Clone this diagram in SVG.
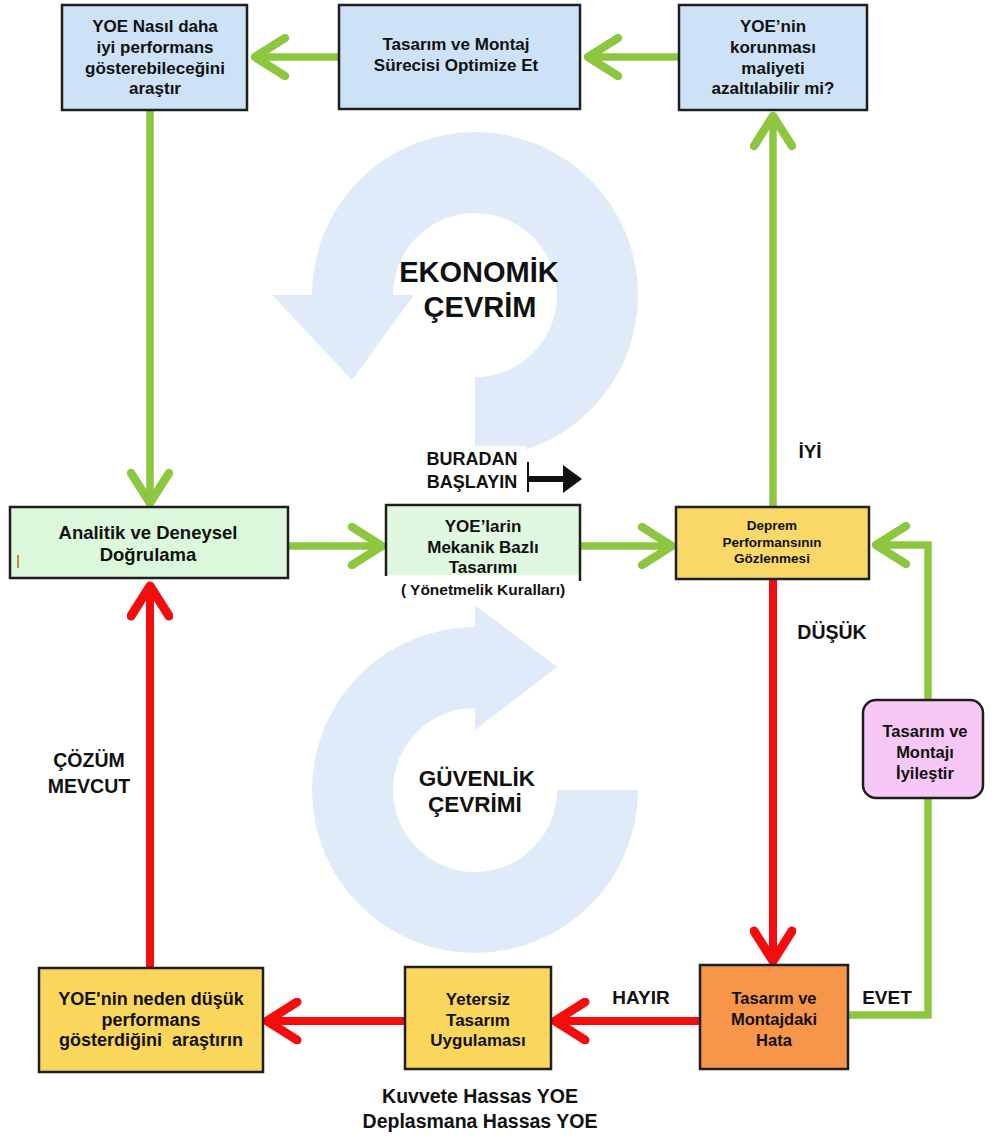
<svg xmlns="http://www.w3.org/2000/svg" width="993" height="1136" viewBox="0 0 993 1136">
  <style>
    .box { stroke: #1e1e1e; stroke-width: 2.5; }
    .blue { fill: #cde2f7; }
    .lgreen { fill: #dcf8dc; }
    .yellow { fill: #fad65c; }
    .orange { fill: #f7954a; }
    .pink { fill: #f7c8f5; }
    .n { font-family: "Liberation Sans Narrow", "Liberation Sans", Arial, sans-serif; font-weight: bold; fill: #111; text-anchor: middle; }
    .s { font-family: "Liberation Sans", Arial, sans-serif; font-weight: bold; fill: #111; text-anchor: middle; }
    .g { fill: none; stroke: #8dc73f; stroke-width: 7.5; stroke-linejoin: miter; }
    .r { fill: none; stroke: #f50d0d; stroke-width: 8; stroke-linejoin: miter; }
    .ring { fill: #dfebf8; }
  </style>
  <defs>
    <marker id="ag" markerUnits="userSpaceOnUse" viewBox="0 0 44 46" markerWidth="44" markerHeight="46" refX="36" refY="23" orient="auto">
      <path d="M6,4 L36,23 L6,42" fill="none" stroke="#8dc73f" stroke-width="8.5" stroke-linecap="round" stroke-linejoin="round"/>
    </marker>
    <marker id="ar" markerUnits="userSpaceOnUse" viewBox="0 0 44 46" markerWidth="44" markerHeight="46" refX="36" refY="23" orient="auto">
      <path d="M6,4 L36,23 L6,42" fill="none" stroke="#f50d0d" stroke-width="9" stroke-linecap="round" stroke-linejoin="round"/>
    </marker>
  </defs>

  <rect width="993" height="1136" fill="#ffffff"/>

  <!-- background cycle arrows -->
  <g id="cycles">
    <path class="ring" d="M475 458 A163 163 0 1 0 312 295 L272 295 L352 380 L414 295 L393 295 A82 82 0 1 1 475 377 Z"/>
    <path class="ring" d="M638 790 A163 163 0 1 1 475 627 L475 605 L557 667 L475 730 L475 708 A82 82 0 1 0 557 790 Z"/>
    <text class="s" x="479" y="282" font-size="29">EKONOMİK</text>
    <text class="s" x="480" y="317" font-size="29">ÇEVRİM</text>
    <text class="s" x="477" y="786" font-size="22.5">GÜVENLİK</text>
    <text class="s" x="475" y="812" font-size="22.5">ÇEVRİMİ</text>
  </g>

  <!-- connectors -->
  <g id="connectors">
    <path class="g" d="M339 57 L255 57" marker-end="url(#ag)"/>
    <path class="g" d="M679 57 L588 57" marker-end="url(#ag)"/>
    <path class="g" d="M150 110 L150 503" marker-end="url(#ag)"/>
    <path class="g" d="M288 546 L382 546" marker-end="url(#ag)"/>
    <path class="g" d="M580 546 L672 546" marker-end="url(#ag)"/>
    <path class="g" d="M773 507 L773 116" marker-end="url(#ag)"/>
    <path class="g" d="M848 1015 L928 1015 L928 545 L876 545" marker-end="url(#ag)"/>
    <path class="r" d="M773 579 L773 961" marker-end="url(#ar)"/>
    <path class="r" d="M700 1021 L555 1021" marker-end="url(#ar)"/>
    <path class="r" d="M405 1021 L267 1021" marker-end="url(#ar)"/>
    <path class="r" d="M150 968 L150 586" marker-end="url(#ar)"/>
  </g>

  <!-- start marker -->
  <g id="start">
    <rect x="414" y="446" width="112" height="48" fill="#ffffff"/>
    <text class="s" x="472" y="465" font-size="18">BURADAN</text>
    <text class="s" x="472" y="488" font-size="18">BAŞLAYIN</text>
    <line x1="528" y1="462" x2="528" y2="492" stroke="#111" stroke-width="2"/>
    <line x1="528" y1="479" x2="565" y2="479" stroke="#111" stroke-width="6"/>
    <polygon points="563,465 582,479 563,493" fill="#111"/>
  </g>

  <!-- top row -->
  <g id="node-arastir">
    <rect class="box blue" x="62" y="5" width="185" height="105"/>
    <text class="n" x="155" y="32" font-size="17">YOE Nasıl daha</text>
    <text class="n" x="155" y="53" font-size="17">iyi performans</text>
    <text class="n" x="155" y="74" font-size="17">gösterebileceğini</text>
    <text class="n" x="155" y="94" font-size="17">araştır</text>
  </g>
  <g id="node-optimize">
    <rect class="box blue" x="339" y="5" width="241" height="104"/>
    <text class="n" x="456" y="50" font-size="17">Tasarım ve Montaj</text>
    <text class="n" x="456" y="71" font-size="17">Sürecisi Optimize Et</text>
  </g>
  <g id="node-maliyet">
    <rect class="box blue" x="679" y="5" width="188" height="105"/>
    <text class="n" x="773" y="32" font-size="17">YOE’nin</text>
    <text class="n" x="773" y="53" font-size="17">korunması</text>
    <text class="n" x="773" y="74" font-size="17">maliyeti</text>
    <text class="n" x="773" y="94" font-size="17">azaltılabilir mi?</text>
  </g>

  <!-- middle row -->
  <g id="node-dogrulama">
    <rect class="box lgreen" x="10" y="507" width="278" height="71"/>
    <line x1="18" y1="555" x2="18" y2="568" stroke="#b8651e" stroke-width="1.5"/>
    <text class="n" x="148" y="539" font-size="18.5">Analitik ve Deneysel</text>
    <text class="n" x="148" y="561" font-size="18.5">Doğrulama</text>
  </g>
  <g id="node-tasarim">
    <rect x="386" y="505" width="194" height="70" fill="#e0f8e0"/>
    <path d="M386 576 L386 505 L580 505 L580 581" fill="none" stroke="#1e1e1e" stroke-width="2.5"/>
    <text class="n" x="483" y="532" font-size="17">YOE’larin</text>
    <text class="n" x="483" y="553" font-size="17">Mekanik Bazlı</text>
    <text class="n" x="483" y="573" font-size="17">Tasarımı</text>
    <text class="n" x="483" y="595" font-size="15.5">( Yönetmelik Kuralları)</text>
  </g>
  <g id="node-gozlem">
    <rect class="box" x="676" y="507" width="193" height="72" fill="#f9d868"/>
    <text class="s" x="772" y="530" font-size="13.5">Deprem</text>
    <text class="s" x="772" y="547" font-size="13.5">Performansının</text>
    <text class="s" x="772" y="563" font-size="13.5">Gözlenmesi</text>
  </g>

  <!-- improvement box on the feedback loop -->
  <g id="node-iyilestir">
    <rect class="box pink" x="863" y="700" width="120" height="98" rx="13" ry="13"/>
    <text class="s" x="925" y="737" font-size="16.5">Tasarım ve</text>
    <text class="s" x="925" y="758" font-size="16.5">Montajı</text>
    <text class="s" x="925" y="779" font-size="16.5">İyileştir</text>
  </g>

  <!-- bottom row -->
  <g id="node-neden">
    <rect class="box yellow" x="39" y="968" width="224" height="104"/>
    <text class="n" x="151" y="1005" font-size="18">YOE'nin neden düşük</text>
    <text class="n" x="151" y="1026" font-size="18">performans</text>
    <text class="n" x="151" y="1046" font-size="18" xml:space="preserve">gösterdiğini  araştırın</text>
  </g>
  <g id="node-yetersiz">
    <rect class="box yellow" x="405" y="967" width="146" height="102"/>
    <text class="n" x="478" y="1005" font-size="17">Yetersiz</text>
    <text class="n" x="478" y="1026" font-size="17">Tasarım</text>
    <text class="n" x="478" y="1046" font-size="17">Uygulaması</text>
    <text class="n" x="480" y="1103" font-size="19.5">Kuvvete Hassas YOE</text>
    <text class="n" x="480" y="1128" font-size="19.5">Deplasmana Hassas YOE</text>
  </g>
  <g id="node-hata">
    <rect class="box orange" x="700" y="965" width="148" height="104"/>
    <text class="s" x="774" y="1004" font-size="16.5">Tasarım ve</text>
    <text class="s" x="774" y="1025" font-size="16.5">Montajdaki</text>
    <text class="s" x="774" y="1046" font-size="16.5">Hata</text>
  </g>

  <!-- branch labels -->
  <g id="labels">
    <text class="s" x="810" y="458" font-size="19">İYİ</text>
    <text class="s" x="832" y="639" font-size="19.5">DÜŞÜK</text>
    <text class="s" x="89" y="767" font-size="19.5">ÇÖZÜM</text>
    <text class="s" x="89" y="793" font-size="19.5">MEVCUT</text>
    <text class="s" x="641" y="1004" font-size="19">HAYIR</text>
    <text class="s" x="887" y="1004" font-size="19">EVET</text>
  </g>
</svg>
